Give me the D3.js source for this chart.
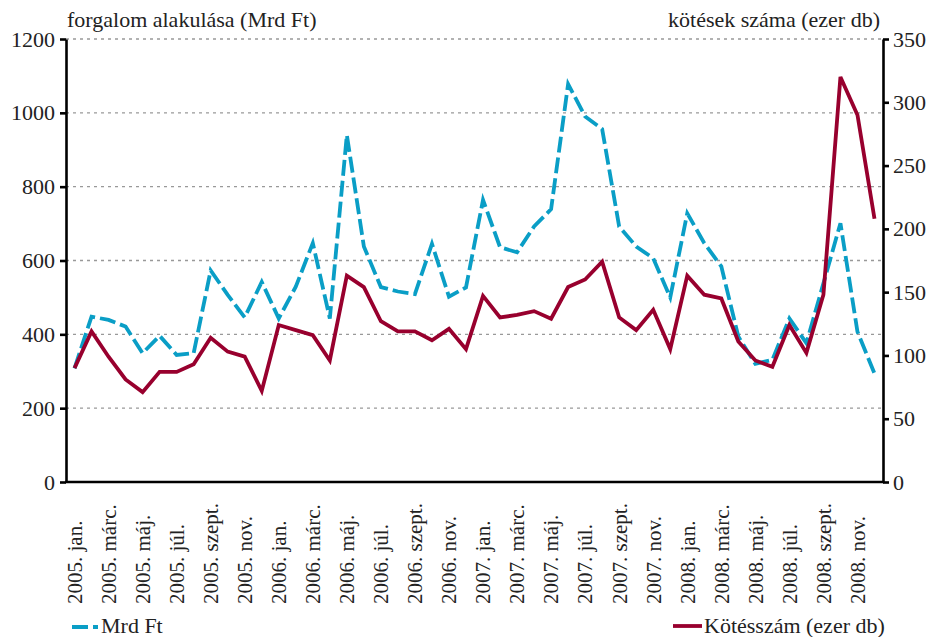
<!DOCTYPE html>
<html>
<head>
<meta charset="utf-8">
<script src="https://cdn.jsdelivr.net/npm/d3@7"></script>
<style>
  body { margin: 0; background: #fff; }
  svg text { font-family: "Liberation Serif", "DejaVu Serif", serif; fill: #222; }
</style>
</head>
<body>
<svg id="chart" width="931" height="637" font-family="Liberation Serif, serif"></svg>
<script>
// Monthly categories, 2005 Jan – 2008 Dec
const years = ["2005", "2006", "2007", "2008"];
const monthNames = ["jan.", "febr.", "márc.", "ápr.", "máj.", "jún.", "júl.", "aug.", "szept.", "okt.", "nov.", "dec."];
const months = [];
years.forEach(y => monthNames.forEach(m => months.push(y + ". " + m)));

// Turnover, billion HUF (left axis)
const turnover = [
  308, 448, 439, 421, 349, 396, 344, 349, 573, 507, 446, 542,
  443, 529, 647, 443, 940, 638, 528, 516, 509, 645, 502, 527,
  764, 636, 622, 692, 739, 1078, 990, 956, 692, 638, 606, 500,
  728, 647, 584, 394, 320, 331, 443, 376, 538, 701, 407, 294
];

// Number of deals, thousand (right axis)
const deals = [
  90, 119, 99, 81, 71, 87, 87, 93, 114, 103, 99, 72,
  124, 120, 116, 96, 163, 154, 127, 119, 119, 112, 121, 105,
  147, 130, 132, 135, 129, 154, 160, 174, 130, 120, 136, 105,
  163, 148, 145, 111, 96, 91, 124, 102, 148, 320, 290, 208
];

const leftTicks = [0, 200, 400, 600, 800, 1000, 1200];
const rightTicks = [0, 50, 100, 150, 200, 250, 300, 350];

const serif = '"Liberation Serif", "DejaVu Serif", serif';
const svg = d3.select("#chart");
const plotLeft = 66, plotRight = 883, plotTop = 39, plotBottom = 482;

const x = d3.scaleBand().domain(months).range([plotLeft, plotRight]);
const cx = d => x(d) + x.bandwidth() / 2;
const yL = d3.scaleLinear().domain([0, 1200]).range([plotBottom, plotTop]);
const yR = d3.scaleLinear().domain([0, 350]).range([plotBottom, plotTop]);

// Dotted gridlines on the left-axis ticks
svg.append("g").selectAll("line").data(leftTicks.filter(t => t > 0)).join("line")
  .attr("x1", plotLeft).attr("x2", plotRight)
  .attr("y1", d => yL(d)).attr("y2", d => yL(d))
  .attr("stroke", "#999").attr("stroke-width", 1.3).attr("stroke-dasharray", "3,4");

// Left axis
const axL = svg.append("g").attr("transform", `translate(${plotLeft},0)`)
  .call(d3.axisLeft(yL).tickValues(leftTicks).tickFormat(d3.format("d"))
    .tickSize(6).tickSizeOuter(0).tickPadding(5));
// Right axis
const axR = svg.append("g").attr("transform", `translate(${plotRight},0)`)
  .call(d3.axisRight(yR).tickValues(rightTicks).tickFormat(d3.format("d"))
    .tickSize(6).tickSizeOuter(0).tickPadding(4));
[axL, axR].forEach(a => {
  a.attr("font-family", serif).attr("font-size", 22);
  a.select(".domain").attr("stroke", "#000").attr("stroke-width", 2.6);
  a.selectAll(".tick line").attr("stroke", "#000").attr("stroke-width", 2.6);
  a.selectAll(".tick text").attr("fill", "#222");
});

// Bottom axis with rotated month labels
svg.append("line").attr("x1", plotLeft - 1).attr("x2", plotRight + 1)
  .attr("y1", plotBottom).attr("y2", plotBottom)
  .attr("stroke", "#000").attr("stroke-width", 2.6);
svg.append("g").attr("font-family", serif).attr("font-size", 21)
  .selectAll("text").data(months.filter((d, i) => i % 2 === 0)).join("text")
  .attr("transform", d => `translate(${cx(d)},604) rotate(-90)`)
  .attr("dy", "0.35em")
  .attr("text-anchor", "start")
  .text(d => d);

// Axis titles
svg.append("text").attr("x", 67).attr("y", 27).attr("font-size", 22)
  .text("forgalom alakulása (Mrd Ft)");
svg.append("text").attr("x", 880).attr("y", 27).attr("text-anchor", "end").attr("font-size", 22)
  .text("kötések száma (ezer db)");

// Series lines
const lineL = d3.line().x((d, i) => cx(months[i])).y(d => yL(d));
const lineR = d3.line().x((d, i) => cx(months[i])).y(d => yR(d));

svg.append("path").datum(turnover).attr("d", lineL)
  .attr("fill", "none").attr("stroke", "#0A9EC6").attr("stroke-width", 3.8)
  .attr("stroke-dasharray", "16,5").attr("stroke-linejoin", "miter");
svg.append("path").datum(deals).attr("d", lineR)
  .attr("fill", "none").attr("stroke", "#98002E").attr("stroke-width", 3.8)
  .attr("stroke-linejoin", "miter");

// Legend
svg.append("line").attr("x1", 72).attr("x2", 98).attr("y1", 627).attr("y2", 627)
  .attr("stroke", "#0A9EC6").attr("stroke-width", 3.8).attr("stroke-dasharray", "16,5");
svg.append("text").attr("x", 101).attr("y", 633).attr("font-size", 22).text("Mrd Ft");
svg.append("line").attr("x1", 673).attr("x2", 702).attr("y1", 626).attr("y2", 626)
  .attr("stroke", "#98002E").attr("stroke-width", 3.8);
svg.append("text").attr("x", 704).attr("y", 633).attr("font-size", 22).text("Kötésszám (ezer db)");
</script>
</body>
</html>
